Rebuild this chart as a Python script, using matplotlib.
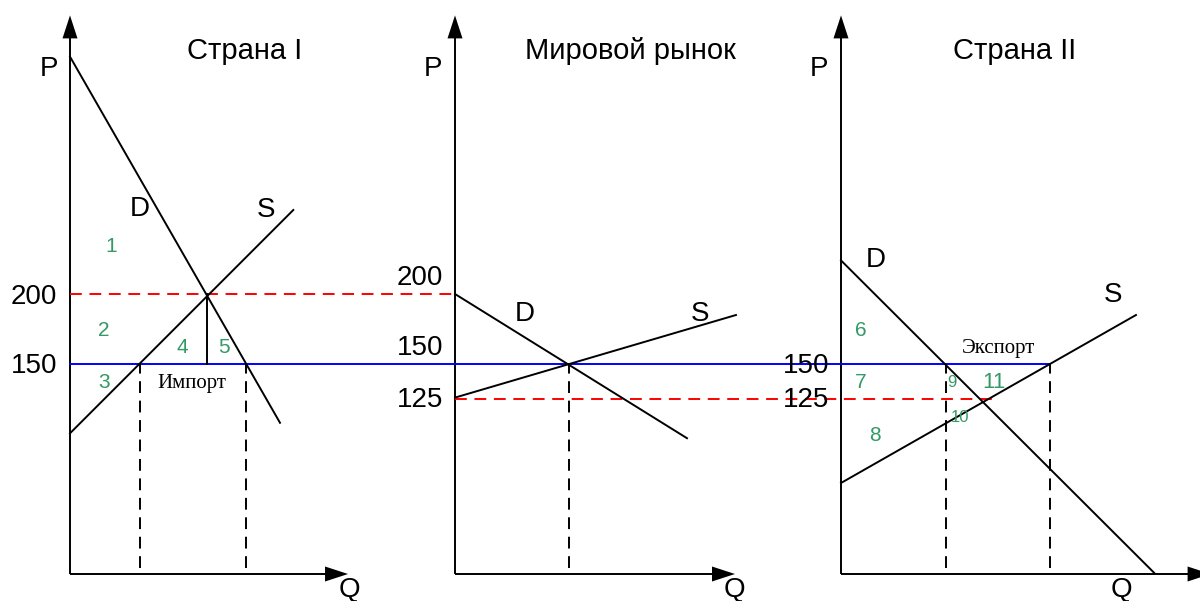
import matplotlib
matplotlib.use('Agg')
import matplotlib.pyplot as plt
from matplotlib.patches import Polygon

plt.rcParams['font.family'] = ['Liberation Sans', 'DejaVu Sans']
plt.rcParams['lines.scale_dashes'] = False

# ---------------- data ----------------
panel_titles = ['Страна I', 'Мировой рынок', 'Страна II']
price_world = 150          # world price (blue line)
price_autarky_1 = 200      # autarky price country I
price_autarky_2 = 125      # autarky price country II

# demand / supply line endpoints per panel (Q, P)
demand_q = [[0, 150], [0, 165.7], [0, 224]]
demand_p = [[369.5, 108], [200, 97], [224, 0.5]]
supply_q = [[0, 159.5], [0, 200.7], [0, 210.7]]
supply_p = [[100.5, 260], [126, 185], [65, 185]]

import_q = [50, 125.5]     # country I: domestic supply / demand at world price
world_q = 81.4             # world market equilibrium quantity
export_q = [75, 149.3]     # country II: domestic demand / supply at world price
autarky_q_1 = 98           # country I autarky quantity
autarky_q_2 = 108          # end of 125 line in country II

tick_labels = [['200', '150'], ['200', '150', '125'], ['150', '125']]
area_labels = ['1', '2', '3', '4', '5', '6', '7', '8', '9', '10', '11']

# ---------------- layout ----------------
W, H = 1200, 601
S = 1.4            # pixels per unit
OY = 574           # pixel row of P = 0
panel_x0 = [70, 455, 841]       # pixel column of each origin
p_axis_top = 399
q_axis_end = [198.6, 200, 264]

def gx(i, q):
    return panel_x0[i] / S + q

def px(x, y):
    return x / S, (OY - y) / S

fig = plt.figure(figsize=(W / 100, H / 100), dpi=100)
ax = fig.add_axes([0, 0, 1, 1])
ax.set_xlim(0, W / S)
ax.set_ylim((OY - H) / S, OY / S)
ax.axis('off')

LW = 1.4
DASH = (0, (8.5, 5.5))
GREEN = '#339966'

# axes with arrows
for i in range(3):
    x0 = gx(i, 0)
    ax.plot([x0, x0], [0, p_axis_top - 10], color='black', lw=LW, solid_capstyle='butt')
    xe = gx(i, q_axis_end[i])
    ax.plot([x0, xe - 10], [0, 0], color='black', lw=LW, solid_capstyle='butt')
    hl, hw = 23 / S, 7.5 / S
    ax.add_patch(Polygon([[x0, p_axis_top], [x0 - hw, p_axis_top - hl], [x0 + hw, p_axis_top - hl]],
                         closed=True, color='black', lw=0))
    ax.add_patch(Polygon([[xe, 0], [xe - hl, hw], [xe - hl, -hw]],
                         closed=True, color='black', lw=0))

# horizontal price lines
ax.plot([gx(0, 0), gx(2, export_q[1])], [price_world, price_world], color='#0000FF', lw=LW)
ax.plot([gx(0, 0), gx(1, 0)], [price_autarky_1, price_autarky_1], color='#FF0000', lw=LW, linestyle=DASH)
ax.plot([gx(1, 0), gx(2, autarky_q_2)], [price_autarky_2, price_autarky_2], color='#FF0000', lw=LW, linestyle=DASH)

# demand & supply
for i in range(3):
    ax.plot([gx(i, q) for q in demand_q[i]], demand_p[i], color='black', lw=LW)
    ax.plot([gx(i, q) for q in supply_q[i]], supply_p[i], color='black', lw=LW)

# dashed verticals
bottom = (OY - 568) / S
for q in import_q:
    ax.plot([gx(0, q)] * 2, [bottom, price_world], color='black', lw=LW, linestyle=DASH)
ax.plot([gx(1, world_q)] * 2, [bottom, price_world], color='black', lw=LW, linestyle=DASH)
for q in export_q:
    ax.plot([gx(2, q)] * 2, [bottom, price_world], color='black', lw=LW, linestyle=DASH)

# solid vertical in country I
ax.plot([gx(0, autarky_q_1)] * 2, [price_world, price_autarky_1], color='black', lw=LW)

# ---------------- texts ----------------
def txt(s, x, y, size=20, ha='center', color='black', family=None):
    kw = {}
    if family:
        kw['family'] = family
    ax.text(*px(x, y), s, fontsize=size, ha=ha, va='baseline', color=color, **kw)

title_x = [245, 630, 1015]
for t, x in zip(panel_titles, title_x):
    txt(t, x, 59, size=21)

for i in range(3):
    txt('P', panel_x0[i] - 21.5, 76)
for x in [349, 734, 1121]:
    txt('Q', x, 597)

# D / S labels
txt('D', 140, 216); txt('S', 266, 217)
txt('D', 525, 321); txt('S', 700, 321)
txt('D', 876, 267); txt('S', 1113, 302)

# price tick labels
tick_pos = [[(57, 304), (57, 373)],
            [(443, 285), (443, 355), (443, 407)],
            [(829, 373), (829, 407)]]
for labels, poss in zip(tick_labels, tick_pos):
    for lab, (x, y) in zip(labels, poss):
        txt(lab, x, y, ha='right')

# area numbers
area_pos = [(111, 252), (104, 336), (104, 388), (182, 353), (224, 353),
            (861, 336), (861, 388), (875, 441), (952, 387), (960, 422), (994, 388)]
area_size = [15, 15, 15, 15, 15, 15, 15, 15, 12, 12, 16]
for lab, (x, y), s in zip(area_labels, area_pos, area_size):
    txt(lab, x, y, size=s, color=GREEN)

txt('Импорт', 192, 388, size=15, family=['Liberation Serif', 'DejaVu Serif'])
txt('Экспорт', 998, 353, size=15, family=['Liberation Serif', 'DejaVu Serif'])

fig.savefig('out.png', dpi=100)
